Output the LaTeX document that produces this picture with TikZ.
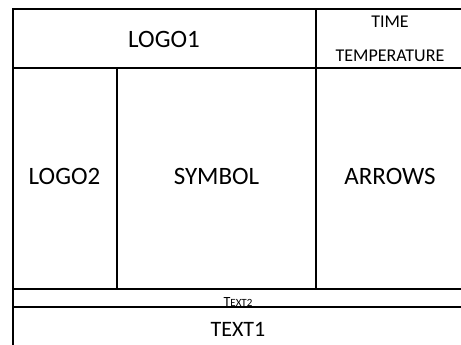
\documentclass[tikz,border=0pt]{standalone}
\usepackage{fontspec}
\setmainfont{Carlito}
\begin{document}
\begin{tikzpicture}[x=1pt,y=-1pt,
  grid/.style={line width=2pt,line cap=rect},
  big/.style={anchor=base,inner sep=0pt,font=\fontsize{25}{29}\selectfont},
  mid/.style={anchor=base,inner sep=0pt,font=\fontsize{18}{22}\selectfont},
  sml/.style={anchor=base,inner sep=0pt}]
\useasboundingbox (0,0) rectangle (461,345);
\begin{scope}
\clip (0,0) rectangle (461,345);
\draw[grid] (13,9) -- (470,9);
\draw[grid] (13,9) -- (13,350);
\draw[grid] (13,68.5) -- (470,68.5);
\draw[grid] (316,9) -- (316,289);
\draw[grid] (117,68.5) -- (117,289);
\draw[grid] (13,289) -- (470,289);
\draw[grid] (13,306.5) -- (470,306.5);
\end{scope}
\node[big] (logo1) at (164,48) {LOGO1};
\node[mid] (time) at (390,28) {TIME};
\node[mid] (temp) at (390,61.5) {TEMPERATURE};
\node[big] (logo2) at (64.5,184) {LOGO2};
\node[big] (symbol) at (216.5,184) {SYMBOL};
\node[big] (arrows) at (390,184) {ARROWS};
\node[sml] (text2) at (238,306) {\fontsize{14}{16}\selectfont T\fontsize{11}{13}\selectfont EXT2};
\node[big,font=\fontsize{22}{26}\selectfont] (text1) at (238,336.5) {TEXT1};
\end{tikzpicture}
\end{document}
